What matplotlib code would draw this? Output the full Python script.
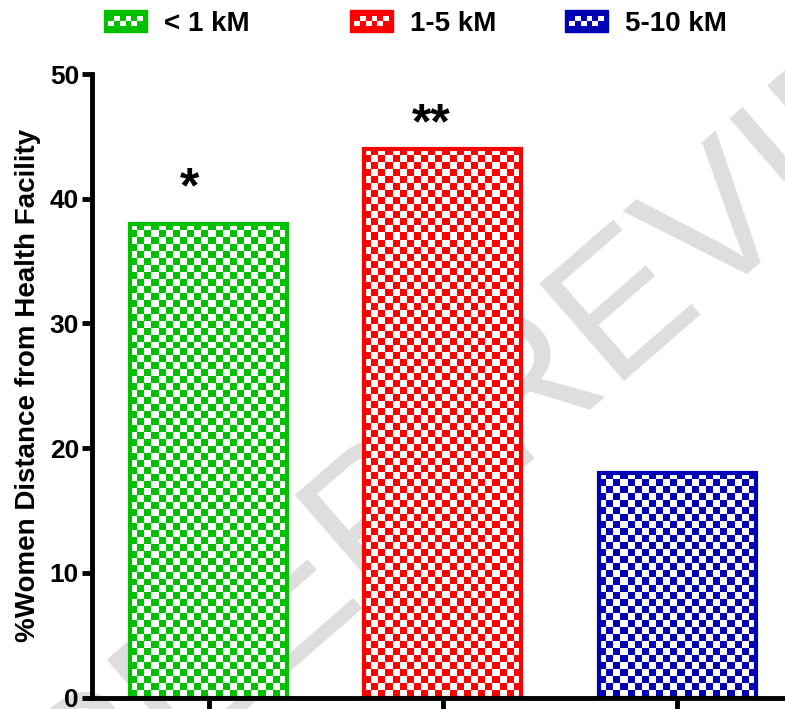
import matplotlib
matplotlib.use('Agg')
import matplotlib.pyplot as plt
import numpy as np
from matplotlib.patches import Patch, Rectangle
from matplotlib.legend_handler import HandlerBase

plt.rcParams['font.family'] = ['Liberation Sans', 'DejaVu Sans']
plt.rcParams['font.weight'] = 'bold'

# data
groups = ['< 1 kM', '1-5 kM', '5-10 kM']
values = [38, 44, 18]
stars = ['*', '**', '']
colors = ['#00c000', '#ff0000', '#0000b4']


def checker(color, nx, ny):
    rgb = np.array(matplotlib.colors.to_rgb(color))
    img = np.ones((ny, nx, 3))
    yy, xx = np.mgrid[0:ny, 0:nx]
    img[(xx + yy) % 2 == 0] = rgb
    return img


class CheckerHandler(HandlerBase):
    def create_artists(self, legend, orig_handle, xdescent, ydescent,
                       width, height, fontsize, trans):
        c = orig_handle.get_facecolor()
        out = [Rectangle((-xdescent, -ydescent), width, height,
                         facecolor=c, edgecolor=c, lw=1, transform=trans)]
        n = 6
        cw = (width * 0.8) / n
        ch = height * 0.22
        x0 = -xdescent + width * 0.1
        y0 = -ydescent + height * 0.28
        for r in range(2):
            for i in range(n):
                if (i + r) % 2 == 0:
                    continue
                out.append(Rectangle((x0 + i * cw, y0 + (1 - r) * ch), cw, ch,
                                     facecolor='white', edgecolor='none',
                                     transform=trans))
        return out


fig = plt.figure(figsize=(7.85, 7.09), dpi=100)
ax = fig.add_axes([91.5 / 785, 11.5 / 709, 693.5 / 785, 623.5 / 709])

x = np.arange(len(groups))
width = 0.67
bars = ax.bar(x, values, width, facecolor='none', edgecolor=colors,
              linewidth=3, zorder=3)

# checker pattern fill, ~7 px squares
px_per_x = 693.5 / 2.96
px_per_y = 623.5 / 50
for b, c in zip(bars, colors):
    x0, w, h = b.get_x(), b.get_width(), b.get_height()
    nx = int(round(w * px_per_x / 7))
    ny = int(round(h * px_per_y / 7))
    im = ax.imshow(checker(c, nx, ny), extent=[x0, x0 + w, 0, h],
                   aspect='auto', interpolation='nearest', zorder=2,
                   origin='lower')
    im.set_clip_path(b)

# significance marks, a little left of centre as in the original
star_dx = [-0.08, -0.05, 0]
star_dy = [2.75, 1.85, 0]
for xi, v, s, dx, dy in zip(x, values, stars, star_dx, star_dy):
    if s:
        ax.text(xi + dx, v + dy, s, ha='center', va='center',
                fontsize=36, fontweight='bold')

# watermark, behind the bars
ax.text(545 / 785, 1 - 385 / 709, 'PEER REVIEW', rotation=41,
        transform=fig.transFigure, clip_on=False,
        ha='center', va='center', fontsize=135, fontweight='normal',
        color='#dedede', zorder=1)

ax.set_xlim(-0.5, 2.46)
ax.set_ylim(0, 50)
ax.set_yticks([0, 10, 20, 30, 40, 50])
ax.set_xticks(x)
ax.tick_params(axis='y', labelsize=19, width=3.5, length=7, pad=2)
ax.tick_params(axis='x', labelbottom=False, width=3.5, length=12)
for lab in ax.get_yticklabels():
    lab.set_fontweight('bold')
ax.spines['top'].set_visible(False)
ax.spines['right'].set_visible(False)
ax.spines['left'].set_linewidth(3.5)
ax.spines['bottom'].set_linewidth(3.5)
ax.spines['left'].set_zorder(4)
ax.spines['bottom'].set_zorder(4)
ax.patch.set_alpha(0)
ax.set_ylabel('%Women Distance from Health Facility', fontsize=20,
              fontweight='bold', labelpad=6)

# legend, one entry each
leg_x = [104, 350, 565]
for g, c, lx in zip(groups, colors, leg_x):
    fig.legend([Patch(facecolor=c)], [g], loc='upper left',
               bbox_to_anchor=(lx / 785, 1 - 10 / 709), frameon=False,
               borderpad=0, borderaxespad=0, handlelength=1.55,
               handleheight=0.85, handletextpad=0.62,
               prop={'size': 20, 'weight': 'bold'},
               handler_map={Patch: CheckerHandler()})

fig.savefig('out.png', dpi=100)
